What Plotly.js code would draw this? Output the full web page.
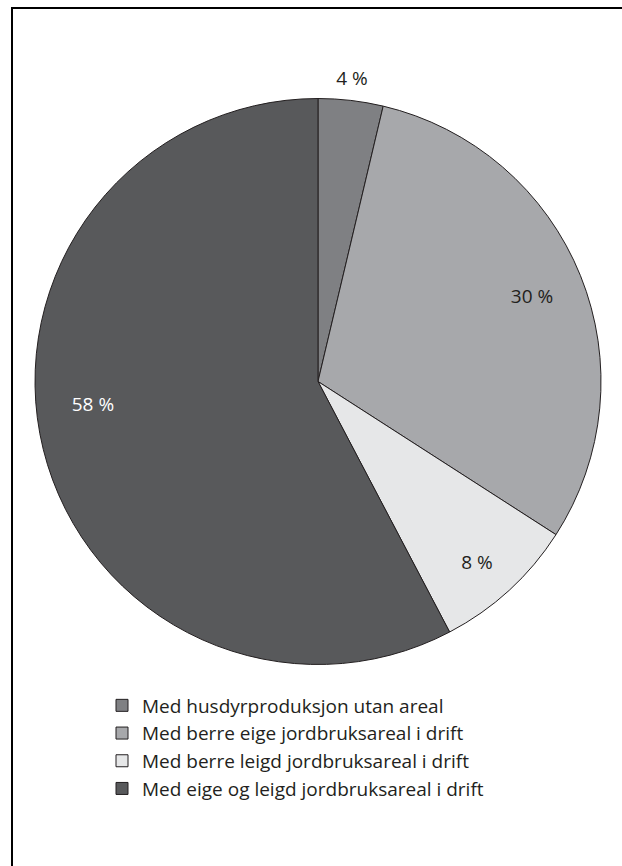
<!DOCTYPE html>
<html>
<head>
<meta charset="utf-8">
<script src="https://cdn.plot.ly/plotly-3.0.1.min.js"></script>
<style>
  html, body { margin: 0; padding: 0; background: #fff; }
  #chart { width: 622px; height: 866px; }
  #frame { position: absolute; left: 11px; top: 7px; width: 700px; height: 900px;
           border-left: 2px solid #000; border-top: 2px solid #000; pointer-events: none; }
</style>
</head>
<body>
<div id="chart"></div>
<div id="frame"></div>
<script>
// ---- data ----
const categories = [
  "Med husdyrproduksjon utan areal",
  "Med berre eige jordbruksareal i drift",
  "Med berre leigd jordbruksareal i drift",
  "Med eige og leigd jordbruksareal i drift"
];
const shares = [3.7, 30.4, 8.2, 57.7];

// ---- styles / label placement (not data) ----
const sliceColors = ["#7f8083", "#a7a8ab", "#e6e7e8", "#58595b"];
const labelColors = ["#231f20", "#231f20", "#231f20", "#ffffff"];
const labelRadius = [1.07, 0.812, 0.855, 0.80];
const labelAngleShift = [-0.2, 0.6, 1.4, 7.7];

const W = 622, H = 866;
const cx = 318, cy = 381.5, R = 283;
const rMax = 1.074;           // radial range so outside labels fit
const Rp = R * rMax;

const total = shares.reduce((a, b) => a + b, 0);
let cum = 0;
const widths = [], mids = [];
shares.forEach(v => {
  const w = v / total * 360;
  widths.push(w);
  mids.push(cum + w / 2);
  cum += w;
});

const traces = categories.map((name, i) => ({
  type: "barpolar",
  name: name,
  r: [1],
  theta: [mids[i]],
  width: [widths[i]],
  marker: { color: sliceColors[i], line: { color: "#231f20", width: 1 } },
  hoverinfo: "none",
  showlegend: true
}));

traces.push({
  type: "scatterpolar",
  mode: "text",
  r: labelRadius,
  theta: mids.map((m, i) => m + labelAngleShift[i]),
  text: shares.map(v => Math.round(v) + " %"),
  textposition: "middle center",
  textfont: { family: "Open Sans", size: 19, color: labelColors },
  cliponaxis: false,
  hoverinfo: "none",
  showlegend: false
});

const layout = {
  width: W, height: H,
  margin: { l: 0, r: 0, t: 0, b: 0 },
  paper_bgcolor: "#ffffff",
  font: { family: "Open Sans", color: "#231f20", size: 19 },
  showlegend: true,
  polar: {
    domain: {
      x: [Math.max(0, (cx - Rp) / W), Math.min(1, (cx + Rp) / W)],
      y: [1 - (cy + Rp) / H, 1 - (cy - Rp) / H]
    },
    bgcolor: "rgba(0,0,0,0)",
    bargap: 0,
    radialaxis: { range: [0, rMax], visible: false, showgrid: false, showline: false, ticks: "" },
    angularaxis: { rotation: 90, direction: "clockwise", visible: false, showgrid: false,
                   showline: false, ticks: "", showticklabels: false }
  },
  legend: {
    x: 102 / W, xanchor: "left",
    y: 1 - 686.5 / H, yanchor: "top",
    bgcolor: "rgba(0,0,0,0)",
    font: { family: "Open Sans", size: 19, color: "#231f20" },
    traceorder: "normal"
  }
};

Plotly.newPlot("chart", traces, layout, { displayModeBar: false, staticPlot: true });
</script>
</body>
</html>
